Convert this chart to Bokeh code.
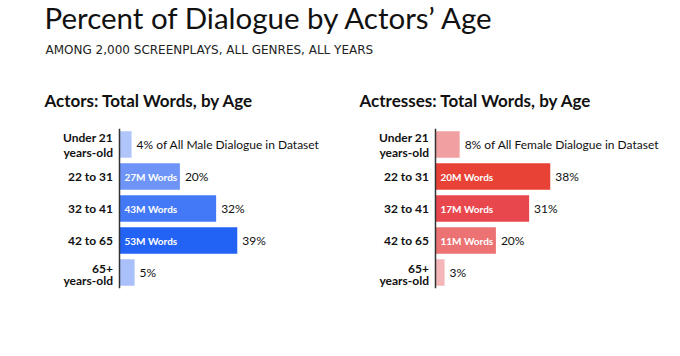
from bokeh.plotting import figure
from bokeh.models import Range1d, FactorRange, Label, Span, ColumnDataSource
from bokeh.layouts import column, row
from bokeh.embed import file_html
from bokeh.resources import INLINE
from bokeh.core.properties import value

FONT = "Lato"

age_groups = ["Under 21", "22 to 31", "32 to 41", "42 to 65", "65+"]
label_line1 = ["Under 21", "22 to 31", "32 to 41", "42 to 65", "65+"]
label_line2 = ["years-old", "", "", "", "years-old"]

male_pct = [4, 20, 32, 39, 5]
male_words = ["", "27M Words", "43M Words", "53M Words", ""]
male_pct_text = ["4% of All Male Dialogue in Dataset", "20%", "32%", "39%", "5%"]
male_colors = ["#b0c6fa", "#6d94f6", "#4379f6", "#2262f5", "#a9c0fa"]

female_pct = [8, 38, 31, 20, 3]
female_words = ["", "20M Words", "17M Words", "11M Words", ""]
female_pct_text = ["8% of All Female Dialogue in Dataset", "38%", "31%", "20%", "3%"]
female_colors = ["#f0a0a0", "#e84135", "#e8474e", "#ec7274", "#f4b6b8"]

title_text = "Percent of Dialogue by Actors\u2019 Age"
subtitle_text = "AMONG 2,000 SCREENPLAYS, ALL GENRES, ALL YEARS"
male_title = "Actors: Total Words, by Age"
female_title = "Actresses: Total Words, by Age"

TOP_H = 125
PX_PER_PCT = 3.02

# ---- header figure ----
head = figure(width=680, height=TOP_H, output_backend="svg", toolbar_location=None,
              x_range=Range1d(0, 680), y_range=Range1d(0, TOP_H),
              min_border=0, outline_line_color=None)
head.axis.visible = False
head.grid.visible = False
head.add_layout(Label(x=44, y=TOP_H - 34, x_units="screen", y_units="screen", text=title_text,
                      text_font=FONT, text_font_size="29.5px", text_color="#111111"))
head.add_layout(Label(x=45, y=TOP_H - 56, x_units="screen", y_units="screen", text=subtitle_text,
                      text_font="DejaVu Sans", text_font_size="12px", text_color="#222222"))
head.add_layout(Label(x=44, y=TOP_H - 110, x_units="screen", y_units="screen", text=male_title,
                      text_font=FONT, text_font_size="17px", text_font_style="bold", text_color="#111111"))
head.add_layout(Label(x=359, y=TOP_H - 110, x_units="screen", y_units="screen", text=female_title,
                      text_font=FONT, text_font_size="17px", text_font_style="bold", text_color="#111111"))


def make_panel(pct, words, pct_text, colors, axis_px):
    w = 340
    factors = list(reversed(age_groups))
    p = figure(width=w, height=356 - TOP_H, output_backend="svg", toolbar_location=None,
               x_range=Range1d(-axis_px / PX_PER_PCT, (w - axis_px) / PX_PER_PCT),
               y_range=FactorRange(factors=factors, range_padding=0),
               min_border_left=0, min_border_right=0, min_border_top=3,
               min_border_bottom=68, outline_line_color=None)
    p.axis.visible = False
    p.grid.visible = False
    src = ColumnDataSource(dict(cat=age_groups, pct=pct, words=words, pct_text=pct_text, color=colors,
                                l1=label_line1, l2=label_line2))
    p.hbar(y="cat", left=0, right="pct", height=0.834, fill_color="color", line_color=None, source=src)
    p.add_layout(Span(location=0, dimension="height", line_color="#333333", line_width=1.5))
    p.text(x=0, y="cat", text="words", x_offset=5, text_baseline="middle", text_color="white",
           text_font=value(FONT), text_font_size="10px", text_font_style="bold", source=src)
    p.text(x="pct", y="cat", text="pct_text", x_offset=5, text_baseline="middle", text_color="#111111",
           text_font=value(FONT), text_font_size="12px", source=src)

    two = [i for i, l2 in enumerate(label_line2) if l2]
    one = [i for i, l2 in enumerate(label_line2) if not l2]
    lab_style = dict(x_offset=-6.5, text_align="right", text_font=value(FONT), text_font_size="12px",
                     text_font_style="bold", text_color="#111111")
    s_one = ColumnDataSource(dict(cat=[age_groups[i] for i in one], t=[label_line1[i] for i in one],
                                  x=[0] * len(one)))
    s_top = ColumnDataSource(dict(cat=[age_groups[i] for i in two], t=[label_line1[i] for i in two],
                                  x=[0] * len(two)))
    s_bot = ColumnDataSource(dict(cat=[age_groups[i] for i in two], t=[label_line2[i] for i in two],
                                  x=[0] * len(two)))
    p.text(x="x", y="cat", text="t", source=s_one, text_baseline="middle", **lab_style)
    p.text(x="x", y="cat", text="t", source=s_top, text_baseline="bottom", **lab_style)
    p.text(x="x", y="cat", text="t", source=s_bot, text_baseline="top", **lab_style)
    return p


left = make_panel(male_pct, male_words, male_pct_text, male_colors, 119)
right = make_panel(female_pct, female_words, female_pct_text, female_colors, 95)

layout = column(head, row(left, right, spacing=0), spacing=0)
open("out.html", "w").write(file_html(layout, INLINE))
